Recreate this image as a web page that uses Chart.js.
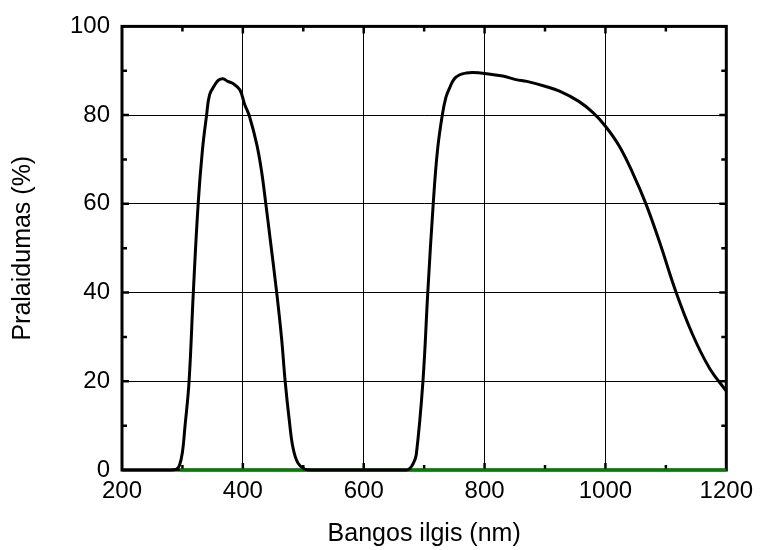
<!DOCTYPE html>
<html>
<head>
<meta charset="utf-8">
<script src="https://cdn.jsdelivr.net/npm/chart.js@4.4.1/dist/chart.umd.min.js"></script>
<style>
  html, body { margin: 0; padding: 0; background: #fff; }
  #wrap { width: 760px; height: 550px; }
</style>
</head>
<body>
<div id="wrap"><canvas id="grafikas"></canvas></div>
<script>
// bangos ilgis (nm) ir pralaidumas (%)
const bangos = [200, 280, 290, 295, 300, 304, 311, 318, 326, 333, 340, 345, 354, 360, 367, 375, 384, 395, 403,
  411, 423, 431, 438, 445, 456, 464, 470, 477, 483, 491, 502, 515, 560, 640, 670, 676, 682, 687, 698, 706,
  715, 722, 730, 736, 742, 750, 759, 770, 781, 800, 830, 852, 870, 900, 924, 956, 979, 1000, 1023, 1045,
  1067, 1089, 1117, 1144, 1172, 1200];
const pralaidumas = [0, 0, 0.2, 1, 4, 9.5, 20, 40, 60, 72, 80, 84.6, 86.9, 87.9, 88.2, 87.6, 87.1, 85.7, 82.4,
  79.7, 73.4, 67.3, 60, 52.3, 40, 29.8, 20, 11, 5, 1.6, 0.2, 0, 0, 0, 0, 0.3, 1.5, 3.5, 20, 40,
  60, 72, 80, 84, 86.1, 88.2, 89.1, 89.5, 89.6, 89.4, 88.8, 88.0, 87.6, 86.5, 85.4, 83.1, 80.6, 77.5, 73, 67,
  60, 51.6, 40, 30.6, 23, 17.8];

// zalia bazine linija ties nuliu
const baseX = [296, 1200];
const baseY = [0, 0];

const xTicks = [200, 400, 600, 800, 1000, 1200];
const yTicks = [0, 20, 40, 60, 80, 100];

const spalva = '#000';
const sriftas = "'Liberation Sans', Arial, sans-serif";

const kreive = bangos.map((x, i) => ({ x: x, y: pralaidumas[i] }));
const bazine = baseX.map((x, i) => ({ x: x, y: baseY[i] }));

// remelis ir vidines zymes
const remelis = {
  id: 'remelis',
  beforeDatasetsDraw(chart) {
    const { ctx, chartArea: a, scales } = chart;
    const xs = scales.x, ys = scales.y;
    ctx.save();
    ctx.strokeStyle = '#000';
    ctx.lineWidth = 3;
    ctx.strokeRect(a.left, a.top, a.right - a.left, a.bottom - a.top);
    ctx.lineWidth = 2.5;
    ctx.beginPath();
    for (let v = 300; v < 1200; v += 100) {
      const px = xs.getPixelForValue(v);
      const len = v % 200 === 0 ? 7 : 5;
      ctx.moveTo(px, a.bottom); ctx.lineTo(px, a.bottom - len);
      ctx.moveTo(px, a.top); ctx.lineTo(px, a.top + len);
    }
    for (let v = 10; v < 100; v += 10) {
      const py = ys.getPixelForValue(v);
      const len = v % 20 === 0 ? 7 : 5;
      ctx.moveTo(a.left, py); ctx.lineTo(a.left + len, py);
      ctx.moveTo(a.right, py); ctx.lineTo(a.right - len, py);
    }
    ctx.stroke();
    ctx.restore();
  }
};

new Chart(document.getElementById('grafikas'), {
  type: 'line',
  data: {
    datasets: [
      {
        data: kreive,
        borderColor: '#000',
        borderWidth: 3,
        pointRadius: 0,
        tension: 0.4,
        clip: 4
      },
      {
        data: bazine,
        borderColor: '#008000',
        borderWidth: 3,
        pointRadius: 0,
        clip: 4
      }
    ]
  },
  options: {
    responsive: true,
    maintainAspectRatio: false,
    animation: false,
    layout: { padding: { top: 26, right: 33, left: 0, bottom: 0 } },
    plugins: { legend: { display: false }, tooltip: { enabled: false } },
    scales: {
      x: {
        type: 'linear',
        min: 200,
        max: 1200,
        afterFit(s) { s.height = 80; },
        afterBuildTicks(s) { s.ticks = xTicks.map(v => ({ value: v })); },
        ticks: {
          color: spalva, font: { family: sriftas, size: 24 }, padding: 7, maxRotation: 0,
          callback: v => String(v)
        },
        grid: { color: '#000', lineWidth: 1, drawTicks: false },
        border: { display: false },
        title: {
          display: true,
          text: 'Bangos ilgis (nm)',
          color: spalva,
          font: { family: sriftas, size: 25 },
          padding: { top: 0, bottom: 1 }
        }
      },
      y: {
        min: 0,
        max: 100,
        afterFit(s) { s.width = 122; },
        afterBuildTicks(s) { s.ticks = yTicks.map(v => ({ value: v })); },
        ticks: { color: spalva, font: { family: sriftas, size: 24 }, padding: 12, callback: v => String(v) },
        grid: { color: '#000', lineWidth: 1, drawTicks: false },
        border: { display: false },
        title: {
          display: true,
          text: 'Pralaidumas (%)',
          color: spalva,
          font: { family: sriftas, size: 25 },
          padding: { top: 8, bottom: 0 }
        }
      }
    }
  },
  plugins: [remelis]
});
</script>
</body>
</html>
